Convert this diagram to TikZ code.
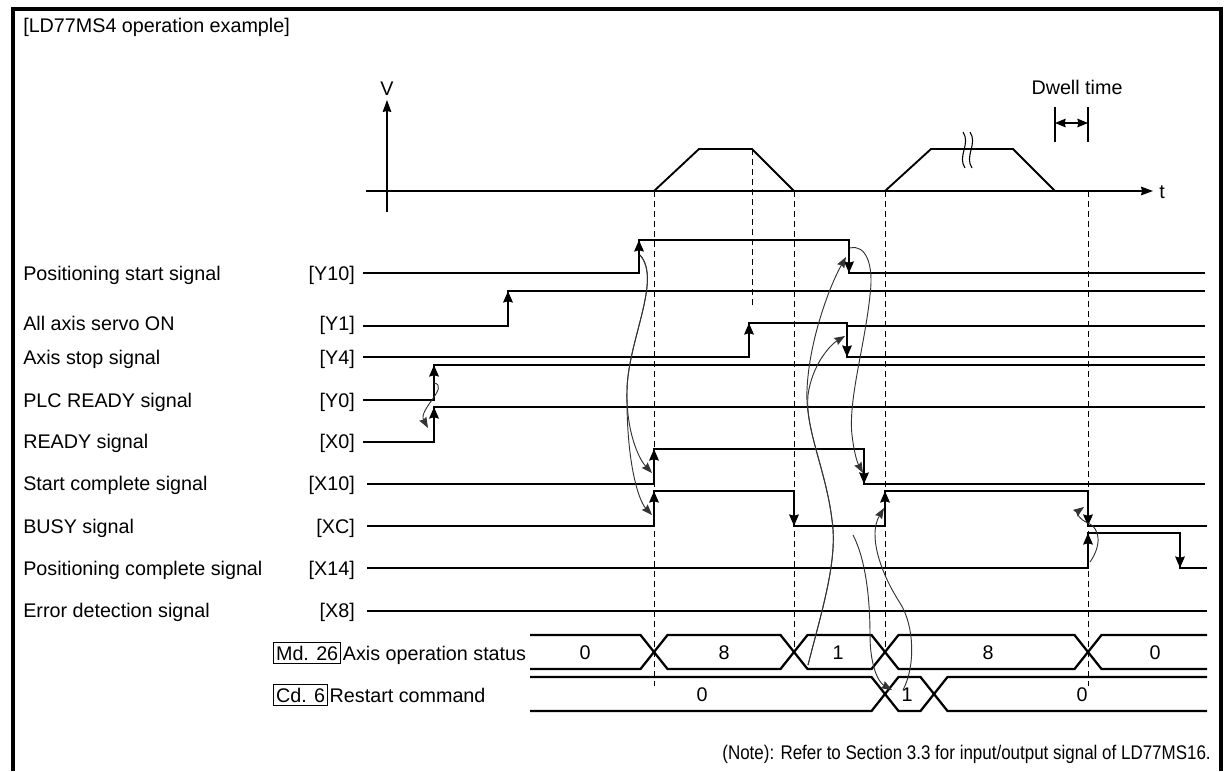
\documentclass[tikz,border=0pt]{standalone}
\usepackage{fontspec}
\setmainfont{Liberation Sans}
\usetikzlibrary{arrows.meta, positioning}

\begin{document}
\begin{tikzpicture}[
  x=0.75pt, y=-0.75pt,
  font=\fontsize{14.8pt}{17pt}\selectfont,
  sig/.style={line width=2pt},
  flank/.style={line width=2pt, -{Stealth[length=8.5pt, width=7pt, inset=0.8pt]}},
  bus/.style={line width=1.7pt},
  guide/.style={line width=0.75pt, dash pattern=on 4.5pt off 3pt},
  cause/.style={line width=0.7pt, black!80, -{Stealth[length=8pt, width=6pt, inset=1pt]}},
  axis/.style={line width=0.8pt},
  txt/.style={inner sep=0pt, text height=10.6pt, text depth=0pt},
  tag/.style={draw, line width=0.6pt, inner xsep=2pt, inner ysep=2.6pt, text height=10.6pt, text depth=0pt}
]
\useasboundingbox (0,0) rectangle (1227,771);
\draw[line width=3pt] (12.5,771) -- (12.5,8.5) -- (1221,8.5) -- (1221,771);
\node[txt, anchor=west] (title) at (23,25) {[LD77MS4 operation example]};

% speed profile
\draw[axis, -{Stealth[length=9pt, width=6.5pt, inset=0.8pt]}] (387,212) -- (387,100);
\node[txt, anchor=south] (vlab) at (387,96) {V};
\draw[axis, -{Stealth[length=9pt, width=6.5pt, inset=0.8pt]}] (366,191) -- (1153,191);
\node[txt, anchor=west] (tlab) at (1159,191) {t};
\draw[line width=1.4pt] (654,191) -- (699,149) -- (752,149) -- (794,191);
\draw[line width=1.4pt] (885,191) -- (931,149) -- (1013,149) -- (1055,191);
\draw[axis] (963,132) .. controls (971,144) and (957,156) .. (965,168);
\draw[axis] (970,132) .. controls (978,144) and (964,156) .. (972,168);
\draw[axis] (1055,107) -- (1055,142);
\draw[axis] (1088,107) -- (1088,142);
\draw[axis, {Stealth[length=8pt, width=6.5pt, inset=0.8pt]}-{Stealth[length=8pt, width=6.5pt, inset=0.8pt]}] (1055,123) -- (1088,123);
\node[txt] (dwell) at (1077,87) {Dwell time};

\foreach \x/\a/\b in {654/191/686, 752/149/308, 794/191/652, 885/191/652, 1088/191/686}
  \draw[guide] (\x,\a) -- (\x,\b);

% signals
\foreach \txt/\sig/\y in {Positioning start signal/Y10/273, All axis servo ON/Y1/323,
    Axis stop signal/Y4/357, PLC READY signal/Y0/400, READY signal/X0/441,
    Start complete signal/X10/483, BUSY signal/XC/526,
    Positioning complete signal/X14/568, Error detection signal/X8/610}{
  \node[txt, anchor=west] (name\sig) at (23,\y) {\txt};
  \node[txt, anchor=east] (code\sig) at (355,\y) {[\sig]};
}
\draw[sig] (363,273) -- (639,273) -- (639,240) -- (849,240) -- (849,273) -- (1205,273);
\draw[sig] (363,326) -- (508,326) -- (508,291) -- (1205,291);
\draw[sig] (847,326) -- (1205,326);
\draw[sig] (363,357) -- (749,357) -- (749,323) -- (847,323) -- (847,357) -- (1205,357);
\draw[sig] (363,400) -- (434,400) -- (434,365) -- (1205,365);
\draw[sig] (363,442) -- (434,442) -- (434,407) -- (1205,407);
\draw[sig] (367,484) -- (654,484) -- (654,449) -- (864,449) -- (864,484) -- (1205,484);
\draw[sig] (367,526) -- (654,526) -- (654,491) -- (794,491) -- (794,526) -- (885,526)
  -- (885,491) -- (1088,491) -- (1088,526) -- (1207,526);
\draw[sig] (367,568) -- (1088,568) -- (1088,533) -- (1180,533) -- (1180,568) -- (1207,568);
\draw[sig] (367,611) -- (1207,611);
\foreach \x/\a/\b in {639/273/240, 849/240/273, 508/326/291, 749/357/323, 847/323/357,
    434/400/365, 434/442/407, 654/484/449, 864/449/484, 654/526/491, 794/491/526,
    885/526/491, 1088/491/526, 1088/568/533, 1180/533/568}
  \draw[flank] (\x,\a) -- (\x,\b);

% monitor and command data
\node[tag, anchor=west] (md) at (273,653) {Md. 26};
\node[txt, anchor=west, inner xsep=1pt] (mdtext) at (md.east) {Axis operation status};
\node[tag, anchor=west] (cd) at (273,695) {Cd. 6};
\node[txt, anchor=west, inner xsep=1pt] (cdtext) at (cd.east) {Restart command};
\draw[bus] (530,635) -- (640.5,635) -- (667.5,669) -- (780.5,669) -- (807.5,635) -- (871.5,635)
  -- (898.5,669) -- (1074.5,669) -- (1101.5,635) -- (1207,635);
\draw[bus] (530,669) -- (640.5,669) -- (667.5,635) -- (780.5,635) -- (807.5,669) -- (871.5,669)
  -- (898.5,635) -- (1074.5,635) -- (1101.5,669) -- (1207,669);
\draw[bus] (530,677) -- (871.5,677) -- (898.5,711) -- (920.5,711) -- (947.5,677) -- (1207,677);
\draw[bus] (530,711) -- (871.5,711) -- (898.5,677) -- (920.5,677) -- (947.5,711) -- (1207,711);
\foreach \v/\x [count=\i] in {0/585, 8/724, 1/838, 8/988, 0/1155}
  \node[txt] (md\i) at (\x,652) {\v};
\foreach \v/\x [count=\i] in {0/702, 1/907, 0/1082}
  \node[txt] (cd\i) at (\x,694) {\v};

% cause and effect
\coordinate (y0up) at (434,383);   \coordinate (x0up) at (428,428);
\coordinate (y10up) at (640,255);  \coordinate (x10up) at (652,473);
\coordinate (xcup) at (652,515);
\coordinate (mdstop) at (808,665); \coordinate (y10down) at (846,257);
\coordinate (y4down) at (845,336);
\coordinate (y10off) at (850,248); \coordinate (x10down) at (863,473);
\coordinate (cdon) at (903,690);   \coordinate (xcagain) at (884,508);
\coordinate (xclow) at (853,535);  \coordinate (cdset) at (892,690);
\coordinate (x14up) at (1090,562); \coordinate (xcdown) at (1084,507);
\draw[cause] (y0up) .. controls (450,386) and (418,410) .. (x0up);
\draw[cause] (y10up) .. controls (662,280) and (628,340) .. (627,390)
  .. controls (626,430) and (638,458) .. (x10up);
\draw[cause] (y10up) .. controls (662,280) and (628,340) .. (627,390)
  .. controls (626,460) and (638,500) .. (xcup);
\draw[cause] (mdstop) .. controls (822,610) and (838,560) .. (832,520)
  .. controls (826,470) and (805,430) .. (807,390) .. controls (809,340) and (830,285) .. (y10down);
\draw[cause] (mdstop) .. controls (822,610) and (838,560) .. (832,520)
  .. controls (826,470) and (805,430) .. (808,395) .. controls (812,365) and (830,345) .. (y4down);
\draw[cause] (y10off) .. controls (866,244) and (874,265) .. (870,295)
  .. controls (865,345) and (848,400) .. (852,435) .. controls (854,452) and (857,462) .. (x10down);
\draw[cause] (cdon) .. controls (916,665) and (914,625) .. (900,603)
  .. controls (880,572) and (868,535) .. (xcagain);
\draw[cause] (xclow) .. controls (866,560) and (870,600) .. (870,635)
  .. controls (870,665) and (878,682) .. (cdset);
\draw[cause] (x14up) .. controls (1102,545) and (1100,528) .. (1088,523)
  .. controls (1078,519) and (1077,512) .. (xcdown);

\node[txt, anchor=east] (note) at (1211,752) {\scalebox{0.86}[1]{(Note): Refer to Section 3.3 for input/output signal of LD77MS16.}};
\end{tikzpicture}
\end{document}
